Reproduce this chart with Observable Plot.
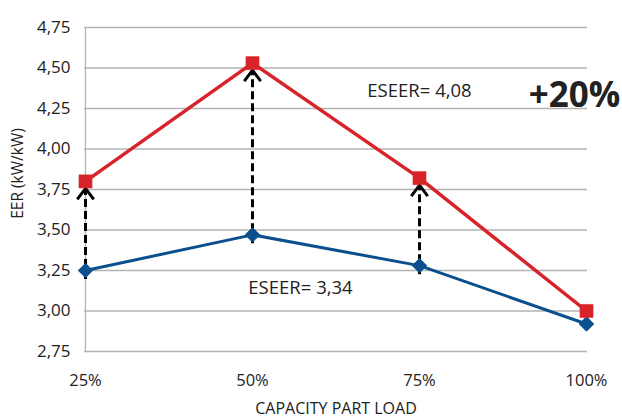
<!DOCTYPE html>
<html>
<head>
<meta charset="utf-8">
<script src="https://cdn.jsdelivr.net/npm/d3@7"></script>
<script src="https://cdn.jsdelivr.net/npm/@observablehq/plot@0.6"></script>
<style>
  html, body { margin: 0; padding: 0; background: #fff; }
  #chart svg { display: block; }
</style>
</head>
<body>
<div id="chart"></div>
<script>
const loads = ["25%", "50%", "75%", "100%"];
const improved = [3.80, 4.53, 3.82, 3.00];
const standard = [3.25, 3.47, 3.28, 2.92];
const yTicks = [2.75, 3.00, 3.25, 3.50, 3.75, 4.00, 4.25, 4.50, 4.75];
const arrowLoads = ["25%", "50%", "75%"];

const redData = loads.map((x, i) => ({x, y: improved[i]}));
const blueData = loads.map((x, i) => ({x, y: standard[i]}));
const arrowData = arrowLoads.map(x => {
  const i = loads.indexOf(x);
  return {x, y1: standard[i], y2: improved[i]};
});

const fmt = v => d3.format(".2f")(v).replace(".", ",");

const chevron = {
  draw(context, size) {
    const s = Math.sqrt(size);
    context.moveTo(-s * 0.75, s);
    context.lineTo(0, 0);
    context.lineTo(s * 0.75, s);
  }
};

const RED = "#d8232a";
const BLUE = "#0b4f8e";

const chart = Plot.plot({
  width: 622,
  height: 419,
  marginLeft: 84,
  marginRight: 35,
  marginTop: 27,
  marginBottom: 68,
  style: {fontFamily: "'Open Sans', sans-serif", color: "#222", background: "#fff"},
  x: {type: "point", domain: loads, padding: 0},
  y: {domain: [2.75, 4.75]},
  marks: [
    Plot.ruleY(yTicks, {stroke: "#b3b3b3", strokeWidth: 1.3}),
    Plot.ruleX([loads[0]], {stroke: "#b3b3b3", strokeWidth: 1.3}),
    Plot.axisY({ticks: yTicks, tickFormat: fmt, tickSize: 0, tickPadding: 14, fontSize: 17, label: null}),
    Plot.axisX({tickSize: 0, tickPadding: 23, fontSize: 16.5, label: null}),
    Plot.text(["CAPACITY PART LOAD"], {frameAnchor: "bottom", dy: 62, fontSize: 16, fill: "#222"}),
    Plot.text(["EER (kW/kW)"], {frameAnchor: "left", textAnchor: "middle", rotate: -90, dx: -66, dy: -16, fontSize: 15.5, fill: "#222"}),
    Plot.line(blueData, {x: "x", y: "y", stroke: BLUE, strokeWidth: 3}),
    Plot.line(redData, {x: "x", y: "y", stroke: RED, strokeWidth: 3.5}),
    Plot.ruleX(arrowData, {x: "x", y1: "y1", y2: "y2", insetTop: 9, stroke: "#000", strokeWidth: 3, strokeDasharray: "8,4"}),
    Plot.dot(arrowData, {x: "x", y: "y2", dy: 7, symbol: chevron, r: 6.2, fill: "none", stroke: "#000", strokeWidth: 3, strokeLinejoin: "miter"}),
    Plot.dot(blueData, {x: "x", y: "y", symbol: "diamond2", r: 6.5, fill: BLUE, stroke: BLUE, strokeWidth: 1}),
    Plot.dot(redData, {x: "x", y: "y", symbol: "square", r: 7.4, fill: RED, stroke: RED, strokeWidth: 0.5}),
    Plot.text(["ESEER= 4,08"], {x: () => "75%", y: () => 4.36, fontSize: 18.5, fill: "#222"}),
    Plot.text(["+20%"], {x: () => "100%", y: () => 4.33, dx: -12, fontSize: 35, fontWeight: "bold", fill: "#222"}),
    Plot.text(["ESEER= 3,34"], {x: () => "50%", y: () => 3.14, dx: 48, fontSize: 18.5, fill: "#222"})
  ]
});
document.getElementById("chart").appendChild(chart);
</script>
</body>
</html>
